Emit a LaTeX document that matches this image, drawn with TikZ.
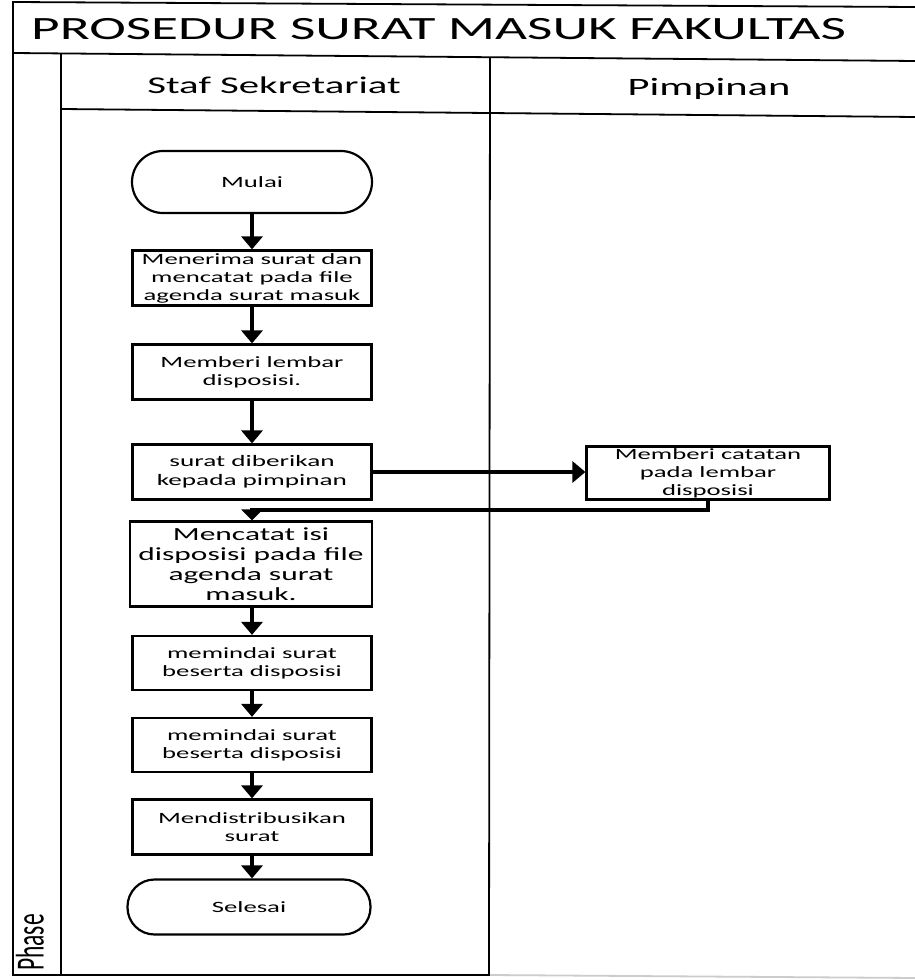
\documentclass[tikz,border=0pt]{standalone}
\usepackage{fontspec}
\setmainfont{Carlito}[FakeStretch=1.7]
\newfontfamily\plainfont{Carlito}
\usetikzlibrary{arrows.meta}

\begin{document}
\begin{tikzpicture}[x=1pt,y=-1pt,
  frame/.style={line width=1.8pt},
  stepbox/.style={draw, line width=2.2pt, minimum width=239pt, minimum height=55pt,
    align=center, inner sep=1pt, font=\fontsize{15.7}{18}\selectfont},
  term/.style={stepbox, minimum width=240pt, minimum height=62pt, rounded corners=31pt},
  flow/.style={line width=3.2pt, -{Triangle[width=21pt,length=13pt]}},
  lane/.style={font=\fontsize{24}{28}\selectfont}
]
\useasboundingbox (0,0) rectangle (914,980);
\fill[white] (0,0) rectangle (914,980);

% pool frame, title band and lane headers
\draw[frame] (916,7) -- (13,2) -- (13,975) -- (490,975);
\draw[frame, black!20] (490,975) -- (916,978);
\draw[frame] (13,53) -- (916,61);
\draw[frame] (61,53.5) -- (61,975);
\draw[frame] (61,109) -- (916,117);
\draw[frame] (490,57) -- (489,975);

\node[anchor=base west, inner sep=0, font=\fontsize{32.5}{36}\selectfont] (title) at (31,39)
  {PROSEDUR SURAT MASUK FAKULTAS};
\node[lane] (hstaf) at (274,85) {Staf Sekretariat};
\node[lane, font=\fontsize{25}{28}\selectfont] (hpim) at (709,89) {Pimpinan};
\node[rotate=90, anchor=west, inner sep=0] (phase) at (30,971)
  {\scalebox{1}[1.7]{\plainfont\fontsize{23.5}{26}\selectfont Phase}};

% process steps
\node[term] (mulai) at (252,182) {Mulai};
\node[stepbox] (b1) at (252,278) {Menerima surat dan\\mencatat pada file\\agenda surat masuk};
\node[stepbox] (b2) at (252,372) {Memberi lembar\\disposisi.};
\node[stepbox, font=\fontsize{16}{19}\selectfont] (b3) at (252,472) {surat diberikan\\kepada pimpinan};
\node[stepbox, minimum width=243pt, minimum height=53pt] (pim) at (708,473)
  {Memberi catatan\\pada lembar\\disposisi};
\node[stepbox, minimum width=242pt, minimum height=85pt, font=\fontsize{18.5}{20}\selectfont] (b4) at (251,564)
  {Mencatat isi\\disposisi pada file\\agenda surat\\masuk.};
\node[stepbox, minimum height=54pt] (b5) at (252,663) {memindai surat\\beserta disposisi};
\node[stepbox, minimum height=54pt] (b6) at (252,745) {memindai surat\\beserta disposisi};
\node[stepbox] (b7) at (252,827) {Mendistribusikan\\surat};
\node[term, minimum width=243pt, minimum height=55pt, rounded corners=27pt] (selesai) at (249,907) {Selesai};

% connectors
\coordinate (ret) at (252,510);
\draw[flow] (mulai.south) -- (b1.north);
\draw[flow] (b1.south) -- (b2.north);
\draw[flow] (b2.south) -- (b3.north);
\draw[flow] (b3.east) -- (b3.east -| pim.west);
\draw[line width=3.2pt, -{Triangle[width=21pt,length=11pt]}] (pim.south) |- (ret) -- (ret |- b4.north);
\draw[flow] (ret |- b4.south) -- (b5.north);
\draw[flow] (b5.south) -- (b6.north);
\draw[flow] (b6.south) -- (b7.north);
\draw[flow] (b7.south) -- (b7.south |- selesai.north);
\end{tikzpicture}
\end{document}
